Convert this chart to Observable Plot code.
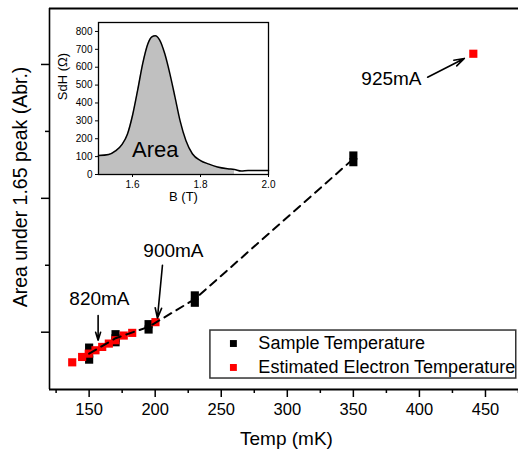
<!DOCTYPE html>
<html><head><meta charset="utf-8">
<script src="https://cdn.jsdelivr.net/npm/d3@7"></script>
<script src="https://cdn.jsdelivr.net/npm/@observablehq/plot@0.6"></script>
<style>
body{margin:0;background:#fff;}
#wrap{position:relative;width:518px;height:449px;overflow:hidden;}
#wrap svg{position:absolute;}
</style></head><body><div id="wrap"></div>
<script>
// ---- data ----
const sampleTemp = [150,150,150,170,170,170,195,195,230,230,350,350];
const sampleArea = [1.77,1.68,1.59,1.97,1.91,1.85,2.12,2.04,2.55,2.44,4.64,4.54];
const electronTemp = [137.2,144.7,149.7,154.8,159.9,164.9,169.9,176.2,182.6,200.2,440.8];
const electronArea = [1.55,1.63,1.68,1.73,1.78,1.83,1.88,1.95,1.99,2.15,6.16];
const annLabels = ["820mA","900mA","925mA"];
const annTextT = [157.8,213.8,378.8];
const annTextA = [2.50,3.21,5.78];
const annFromT = [156.8,205.5,406.2];
const annFromA = [2.25,3.00,5.81];
const annToT = [156.8,201.7,434.0];
const annToA = [1.88,2.21,6.09];
const legendLabels = ["Sample Temperature","Estimated Electron Temperature"];
const xMajorTicks = [150,200,250,300,350,400,450];
const xMinorTicks = [125,175,225,275,325,375,425,475];
const yMajorTicks = [2,4,6];
const yMinorTicks = [3,5];
const insetB = [1.50,1.53,1.55,1.57,1.585,1.60,1.615,1.63,1.645,1.657,1.667,1.68,1.695,1.71,1.725,1.74,1.757,1.776,1.80,1.825,1.85,1.88,1.90,1.92,1.94,1.97,2.00];
const insetR = [106,112,132,170,225,330,470,620,730,770,776,752,675,563,433,300,190,116,78,58,42,32,28,19,22,22,22];
const insetXTicks = [1.6,1.8,2.0];
const insetYTicks = [0,100,200,300,400,500,600,700,800];

// ---- build tables ----
const font = "'Liberation Sans', Arial, Helvetica, sans-serif";
const sample = sampleTemp.map((t,i)=>({t, a: sampleArea[i]}));
const electron = electronTemp.map((t,i)=>({t, a: electronArea[i]}));
const sampleMean = Array.from(d3.rollup(sample, v=>d3.mean(v, d=>d.a), d=>d.t), ([t,a])=>({t,a})).sort((p,q)=>p.t-q.t);
const ann = annLabels.map((label,i)=>({label, tx:annTextT[i], ta:annTextA[i], x1:annFromT[i], y1:annFromA[i], x2:annToT[i], y2:annToA[i]}));
const curve = insetB.map((b,i)=>({b, r: insetR[i]}));
const fillPart = curve.filter(d=>d.b <= 1.9);

const X = [120, 475], Y = [1.144, 6.836];
const blank = () => "";

const main = Plot.plot({
  width: 518, height: 449,
  marginLeft: 49, marginRight: 0, marginTop: 8, marginBottom: 60,
  style: {fontFamily: font, background: "transparent", overflow: "visible", color: "black"},
  x: {domain: X}, y: {domain: Y},
  marks: [
    Plot.axisX({ticks: xMajorTicks, tickSize: 8, tickPadding: 6, fontSize: 16.5, strokeWidth: 1.5, label: null}),
    Plot.axisX({ticks: xMinorTicks, tickSize: 4, tickFormat: blank, strokeWidth: 1.5, label: null}),
    Plot.axisY({ticks: yMajorTicks, tickSize: 8, tickFormat: blank, strokeWidth: 1.5, label: null}),
    Plot.axisY({ticks: yMinorTicks, tickSize: 4, tickFormat: blank, strokeWidth: 1.5, label: null}),
    Plot.ruleX([X[0]], {strokeWidth: 1.6}),
    Plot.ruleY([Y[0], Y[1]], {strokeWidth: 2}),
    Plot.dot(sample, {x: "t", y: "a", symbol: "square", r: 4.6, fill: "black", stroke: "none"}),
    Plot.dot(electron, {x: "t", y: "a", symbol: "square", r: 4.6, fill: "#ff0000", stroke: "none"}),
    Plot.line(sampleMean, {x: "t", y: "a", stroke: "black", strokeWidth: 2, strokeDasharray: "8,6"}),
    Plot.arrow(ann, {x1: "x1", y1: "y1", x2: "x2", y2: "y2", stroke: "black", strokeWidth: 1.6, headLength: 10, headAngle: 35}),
    Plot.text(ann, {x: "tx", y: "ta", text: "label", fontSize: 19, textAnchor: "middle", lineAnchor: "middle"}),
    // legend
    Plot.rect([0], {x1: () => 241.8, x2: () => 473.3, y1: () => 2.025, y2: () => 1.308, fill: "white", stroke: "#333", strokeWidth: 1.5}),
    Plot.dot([legendLabels[0]], {x: () => 259.2, y: () => 1.831, symbol: "square", r: 3.9, fill: "black", stroke: "none"}),
    Plot.dot([legendLabels[1]], {x: () => 259.2, y: () => 1.473, symbol: "square", r: 3.9, fill: "#ff0000", stroke: "none"}),
    Plot.text([legendLabels[0]], {x: () => 278.1, y: () => 1.831, text: d => d, fontSize: 18, textAnchor: "start", lineAnchor: "middle"}),
    Plot.text([legendLabels[1]], {x: () => 278.1, y: () => 1.473, text: d => d, fontSize: 18, textAnchor: "start", lineAnchor: "middle"}),
    // axis titles
    Plot.text(["Temp (mK)"], {frameAnchor: "bottom", dx: 2.5, dy: 49, text: d => d, fontSize: 19, textAnchor: "middle", lineAnchor: "middle"}),
    Plot.text(["Area under 1.65 peak (Abr.)"], {frameAnchor: "left", dx: -29, dy: -12, rotate: -90, text: d => d, fontSize: 19.5, textAnchor: "middle", lineAnchor: "middle"})
  ]
});
main.style.left = "0px"; main.style.top = "0px";

const inset = Plot.plot({
  width: 225, height: 192,
  marginLeft: 45, marginRight: 10, marginTop: 10, marginBottom: 30,
  style: {fontFamily: font, background: "transparent", overflow: "visible", color: "black"},
  x: {domain: [1.5, 2.0]}, y: {domain: [0, 850]},
  marks: [
    Plot.areaY(fillPart, {x: "b", y: "r", fill: "#c0c0c0", curve: "monotone-x"}),
    Plot.line(curve, {x: "b", y: "r", stroke: "black", strokeWidth: 1.5, curve: "monotone-x"}),
    Plot.frame({stroke: "black", strokeWidth: 1.3}),
    Plot.axisX({ticks: insetXTicks, tickSize: 3, tickPadding: 3, tickFormat: d3.format(".1f"), fontSize: 10, label: null}),
    Plot.axisY({ticks: insetYTicks, tickSize: 3, tickPadding: 3, fontSize: 10, label: null}),
    Plot.text(["Area"], {x: () => 1.667, y: () => 140, text: d => d, fontSize: 22, textAnchor: "middle", lineAnchor: "middle"}),
    Plot.text(["B (T)"], {frameAnchor: "bottom", dy: 22, text: d => d, fontSize: 13, textAnchor: "middle", lineAnchor: "middle"}),
    Plot.text(["SdH (Ω)"], {frameAnchor: "left", dx: -35.5, dy: -22, rotate: -90, text: d => d, fontSize: 13, textAnchor: "middle", lineAnchor: "middle"})
  ]
});
inset.style.left = "53px"; inset.style.top = "12px";

const wrap = document.getElementById("wrap");
wrap.appendChild(main);
wrap.appendChild(inset);
</script>
</body></html>
